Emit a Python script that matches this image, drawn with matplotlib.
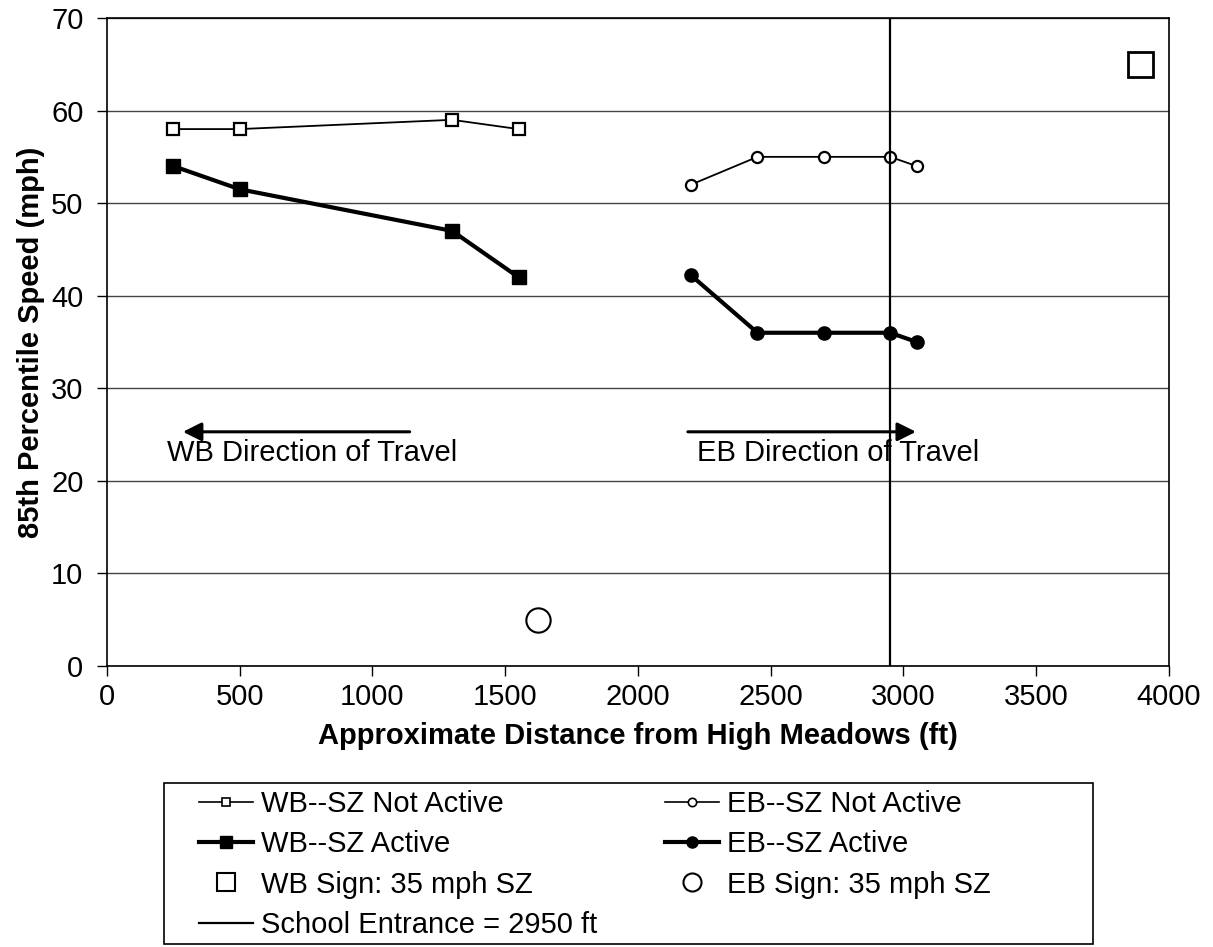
import matplotlib
matplotlib.use("Agg")
import matplotlib.pyplot as plt
from matplotlib.lines import Line2D
from matplotlib.patches import Rectangle

plt.rcParams['font.family'] = ['Liberation Sans', 'DejaVu Sans']

# ---- data ----
wb_x = [250, 500, 1300, 1550]
wb_not_active = [58, 58, 59, 58]
wb_active = [54, 51.5, 47, 42]

eb_x = [2200, 2450, 2700, 2950, 3050]
eb_not_active = [52, 55, 55, 55, 54]
eb_active = [42.2, 36, 36, 36, 35]

wb_sign = (3890, 65)
eb_sign = (1625, 5)
school_entrance = 2950

wb_arrow = (1140, 286, 25.3)    # tail x, tip x, y
eb_arrow = (2188, 3047, 25.3)
wb_text = (226, 23.0, "WB Direction of Travel")
eb_text = (2222, 23.0, "EB Direction of Travel")

FS = 21

fig = plt.figure(figsize=(12.13, 9.47), dpi=100)
ax = fig.add_axes([0.0882, 0.2967, 0.8755, 0.6843])

ax.set_xlim(0, 4000)
ax.set_ylim(0, 70)
ax.set_xticks(range(0, 4001, 500))
ax.set_yticks(range(0, 71, 10))
ax.yaxis.grid(True, color='#444444', linewidth=1.0)
ax.set_axisbelow(True)
ax.tick_params(labelsize=FS, length=7, width=1, direction='out')
ax.tick_params(axis='x', pad=5)
ax.tick_params(axis='y', pad=10)
for s in ax.spines.values():
    s.set_linewidth(1.2)

ax.plot(wb_x, wb_not_active, color='black', lw=1.3, marker='s', ms=8,
        mfc='white', mec='black', mew=1.6, zorder=3)
ax.plot(wb_x, wb_active, color='black', lw=3, marker='s', ms=9.5,
        mfc='black', mec='black', zorder=3)
ax.plot(eb_x, eb_not_active, color='black', lw=1.3, marker='o', ms=8,
        mfc='white', mec='black', mew=1.6, zorder=3)
ax.plot(eb_x, eb_active, color='black', lw=3, marker='o', ms=9.5,
        mfc='black', mec='black', zorder=3)

ax.plot([wb_sign[0]], [wb_sign[1]], marker='s', ms=18, mfc='white',
        mec='black', mew=2, ls='none', zorder=3)
ax.plot([eb_sign[0]], [eb_sign[1]], marker='o', ms=17.5, mfc='white',
        mec='black', mew=1.5, ls='none', zorder=3)
ax.axvline(school_entrance, color='black', lw=1.6, zorder=4)

for tail, tip, y in (wb_arrow, eb_arrow):
    ax.annotate('', xy=(tip, y), xytext=(tail, y),
                arrowprops=dict(arrowstyle='-|>', color='black', lw=2.2,
                                mutation_scale=28, shrinkA=0, shrinkB=0))
for tx, ty, s in (wb_text, eb_text):
    ax.text(tx, ty, s, fontsize=FS, ha='left', va='center')

ax.set_xlabel("Approximate Distance from High Meadows (ft)", fontsize=FS,
              fontweight='bold', labelpad=8)
ax.set_ylabel("85th Percentile Speed (mph)", fontsize=FS, fontweight='bold',
              labelpad=4)

# legend (proxy handles with smaller markers, like the original)
handles = [
    Line2D([], [], color='black', lw=1.2, marker='s', ms=6, mfc='white', mew=1.2),
    Line2D([], [], color='black', lw=3, marker='s', ms=8, mfc='black'),
    Line2D([], [], ls='none', marker='s', ms=13, mfc='white', mec='black', mew=1.5),
    Line2D([], [], color='black', lw=1.6),
    Line2D([], [], color='black', lw=1.2, marker='o', ms=6, mfc='white', mew=1.2),
    Line2D([], [], color='black', lw=3, marker='o', ms=8, mfc='black'),
    Line2D([], [], ls='none', marker='o', ms=13, mfc='white', mec='black', mew=1.5),
]
labels = ["WB--SZ Not Active", "WB--SZ Active", "WB Sign: 35 mph SZ",
          "School Entrance = 2950 ft", "EB--SZ Not Active", "EB--SZ Active",
          "EB Sign: 35 mph SZ"]
fig.legend(handles, labels, ncol=2, loc='upper left',
           bbox_to_anchor=(199 / 1213, 1 - 790 / 947), frameon=False,
           fontsize=FS, handlelength=1.86, handletextpad=0.28,
           columnspacing=2.3, labelspacing=0.42, borderpad=0, borderaxespad=0)
fig.patches.append(Rectangle((164 / 1213, 1 - 944 / 947), 929 / 1213, 161 / 947,
                             transform=fig.transFigure, fill=False,
                             edgecolor='black', lw=1.2))

fig.savefig("out.png", dpi=100)
